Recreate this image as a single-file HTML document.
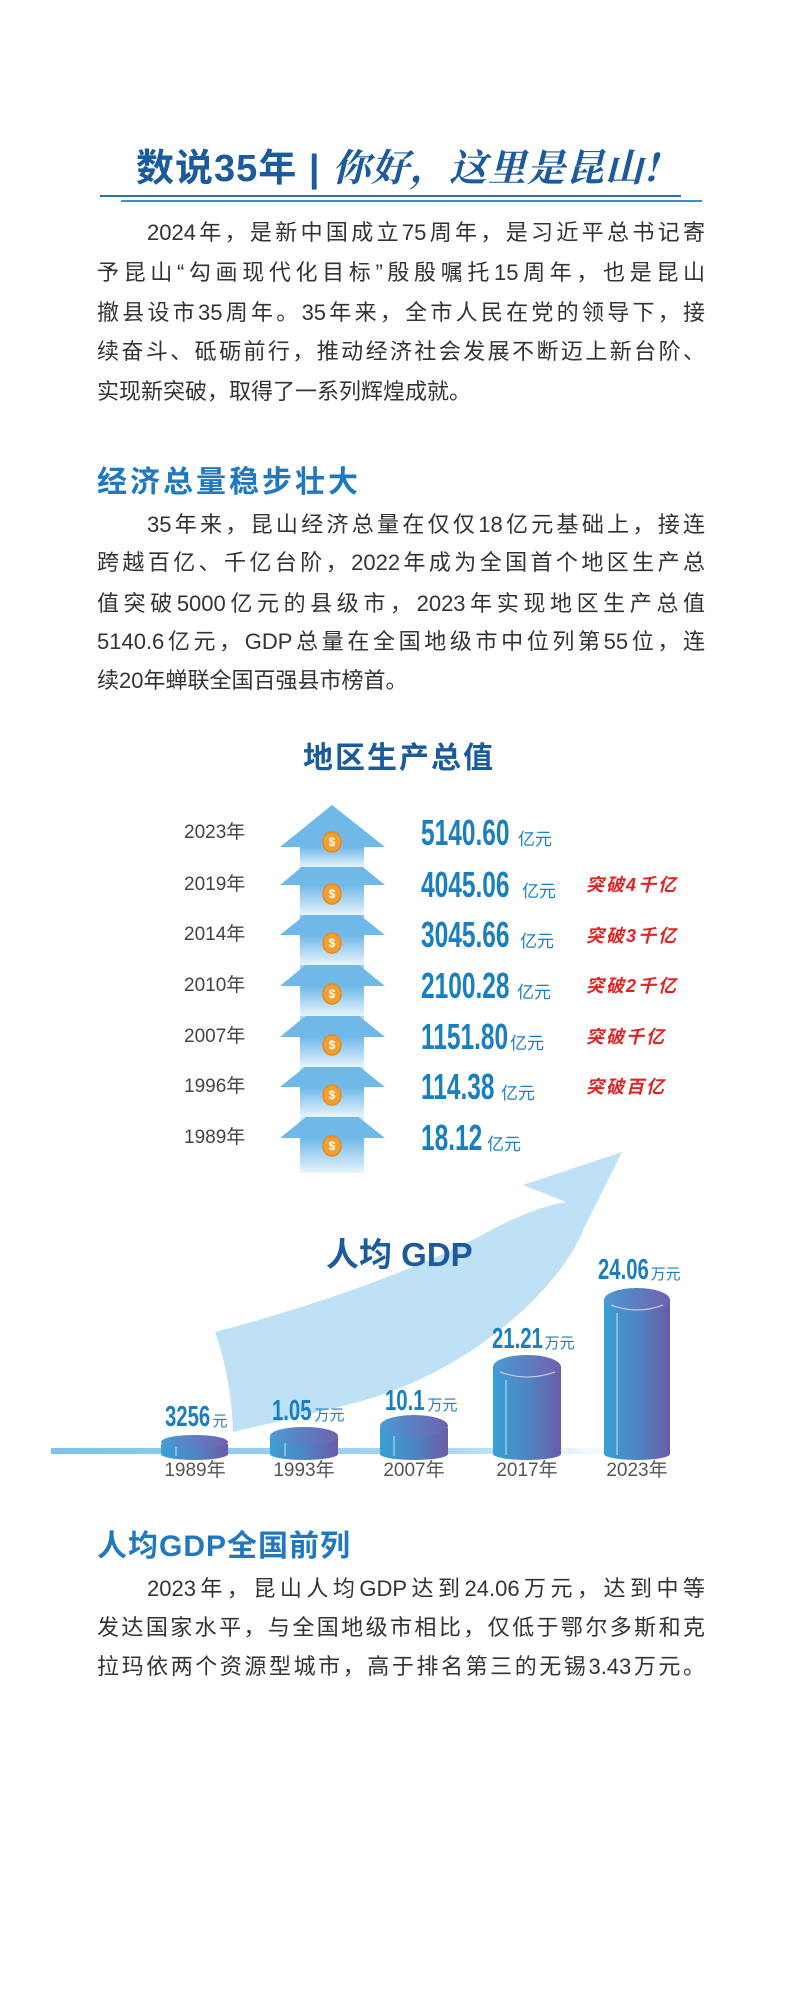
<!DOCTYPE html>
<html><head><meta charset="utf-8">
<style>
*{margin:0;padding:0;box-sizing:border-box}
body{width:800px;height:1999px;background:#fff;position:relative;overflow:hidden;font-family:"Liberation Sans","Noto Sans CJK SC",sans-serif}
.abs{position:absolute}
.p{position:absolute;left:97px;width:608px;font-size:22px;color:#333;text-align:justify;text-align-last:justify;line-height:28px;white-space:nowrap}
.p.last{text-align-last:left}
.h{position:absolute;left:97px;font-size:30px;font-weight:bold;color:#1f78c0;letter-spacing:3px;line-height:36px}
.yr{position:absolute;left:184px;font-size:19px;color:#444;line-height:24px}
.val{position:absolute;left:421px;white-space:nowrap;line-height:36px}
.val b{display:inline-block;font-size:36px;color:#1a7fc0;transform:scaleX(0.68);transform-origin:left center;width:0;overflow:visible}
.val span{font-size:17px;color:#1a7fc0}
.red{position:absolute;left:586px;font-size:18px;font-weight:bold;font-style:italic;color:#e02424;letter-spacing:2px;line-height:22px}
.lab{position:absolute;white-space:nowrap;color:#1a7fc0;line-height:30px}
.lab b{display:inline-block;font-size:29px;transform:scaleX(0.7);transform-origin:left center}
.lab span{font-size:15px}
.y2{position:absolute;font-size:19px;color:#555;width:80px;text-align:center;line-height:24px}
</style></head><body>

<div class="abs" style="left:136px;top:143px;width:531px;height:44px;font-size:38px;font-weight:bold;color:#1b5a9c;white-space:nowrap;line-height:44px;letter-spacing:1px">数说35年 | <span style="font-family:'Noto Serif CJK SC',serif;font-style:italic">你好，这里是昆山!</span></div>
<div class="abs" style="left:100px;top:195px;width:581px;height:2px;background:#2a6fb0"></div>
<div class="abs" style="left:121px;top:200px;width:581px;height:2px;background:#3a8fd0"></div>

<div class="p" style="top:219px;padding-left:50px">2024年，是新中国成立75周年，是习近平总书记寄</div>
<div class="p" style="top:259px">予昆山“勾画现代化目标”殷殷嘱托15周年，也是昆山</div>
<div class="p" style="top:299px">撤县设市35周年。35年来，全市人民在党的领导下，接</div>
<div class="p" style="top:338px">续奋斗、砥砺前行，推动经济社会发展不断迈上新台阶、</div>
<div class="p last" style="top:378px">实现新突破，取得了一系列辉煌成就。</div>

<div class="h" style="top:465px">经济总量稳步壮大</div>
<div class="p" style="top:511px;padding-left:50px">35年来，昆山经济总量在仅仅18亿元基础上，接连</div>
<div class="p" style="top:549px">跨越百亿、千亿台阶，2022年成为全国首个地区生产总</div>
<div class="p" style="top:590px">值突破5000亿元的县级市，2023年实现地区生产总值</div>
<div class="p" style="top:628px">5140.6亿元，GDP总量在全国地级市中位列第55位，连</div>
<div class="p last" style="top:667px">续20年蝉联全国百强县市榜首。</div>

<div class="abs" style="left:303px;top:741px;font-size:30px;font-weight:bold;color:#1b5a9c;letter-spacing:2px;line-height:36px">地区生产总值</div>

<svg class="abs" style="left:0;top:0" width="800" height="1999">
<defs>
<linearGradient id="st" x1="0" y1="0" x2="0" y2="1"><stop offset="0" stop-color="#6fb8e8"/><stop offset="1" stop-color="#e8f4fc"/></linearGradient>
<linearGradient id="cyl" x1="0" y1="0" x2="1" y2="0"><stop offset="0" stop-color="#3a9fd6"/><stop offset="0.5" stop-color="#4d86c4"/><stop offset="1" stop-color="#6a5ca8"/></linearGradient>
<linearGradient id="top" x1="0" y1="0" x2="1" y2="0"><stop offset="0" stop-color="#4a9ad4"/><stop offset="1" stop-color="#6f62ad"/></linearGradient>
<linearGradient id="bar" x1="0" y1="0" x2="1" y2="0"><stop offset="0" stop-color="#7cc2ea"/><stop offset="0.7" stop-color="#a9d8f2"/><stop offset="1" stop-color="#ffffff"/></linearGradient>
</defs>
<!-- sweep arrow -->
<path d="M215,1332 C300,1310 420,1270 491,1230 C530,1210 550,1205 566,1202 L523,1185 L622,1152 L584,1228 C560,1290 470,1370 365,1400 C300,1418 260,1425 233,1432 C232,1395 225,1360 215,1332 Z" fill="#bfe1f6"/>
<!-- stacked arrows -->
<g>
<rect x="300" y="840" width="64" height="333" fill="url(#st)"/>
<polygon points="332,1096 385,1138 280,1138" fill="#6fb8e8"/><rect x="300" y="1138" width="64" height="35" fill="url(#st)"/>
<polygon points="332,1045 385,1087 280,1087" fill="#6fb8e8"/><rect x="300" y="1087" width="64" height="30" fill="url(#st)"/>
<polygon points="332,994 385,1037 280,1037" fill="#6fb8e8"/><rect x="300" y="1037" width="64" height="30" fill="url(#st)"/>
<polygon points="332,943 385,986 280,986" fill="#6fb8e8"/><rect x="300" y="986" width="64" height="30" fill="url(#st)"/>
<polygon points="332,893 385,935 280,935" fill="#6fb8e8"/><rect x="300" y="935" width="64" height="30" fill="url(#st)"/>
<polygon points="332,842 385,885 280,885" fill="#6fb8e8"/><rect x="300" y="885" width="64" height="30" fill="url(#st)"/>
<polygon points="332,805 385,847 280,847" fill="#6fb8e8"/><rect x="300" y="847" width="64" height="20" fill="url(#st)"/>
</g>
<g font-family="Liberation Sans" font-size="12" font-weight="bold" fill="#fff" text-anchor="middle">
<g fill="#f0a030" stroke="#e88a20" stroke-width="1.5">
<ellipse cx="332" cy="842" rx="9" ry="10"/><ellipse cx="332" cy="894" rx="9" ry="10"/><ellipse cx="332" cy="943" rx="9" ry="10"/><ellipse cx="332" cy="994" rx="9" ry="10"/><ellipse cx="332" cy="1045" rx="9" ry="10"/><ellipse cx="332" cy="1095" rx="9" ry="10"/><ellipse cx="332" cy="1146" rx="9" ry="10"/>
</g>
<text x="332" y="846">$</text><text x="332" y="898">$</text><text x="332" y="947">$</text><text x="332" y="998">$</text><text x="332" y="1049">$</text><text x="332" y="1099">$</text><text x="332" y="1150">$</text>
</g>
<!-- baseline -->
<rect x="51" y="1448" width="570" height="6" fill="url(#bar)"/>
<!-- cylinders -->
<g>
<rect x="161" y="1444" width="67" height="10" fill="url(#cyl)"/><ellipse cx="194.5" cy="1454" rx="33.5" ry="6" fill="url(#cyl)"/><ellipse cx="194.5" cy="1442" rx="33.5" ry="7" fill="url(#top)"/>
<rect x="270" y="1437" width="68" height="17" fill="url(#cyl)"/><ellipse cx="304" cy="1454" rx="34" ry="6" fill="url(#cyl)"/><ellipse cx="304" cy="1436" rx="34" ry="9" fill="url(#top)"/>
<rect x="380" y="1428" width="68" height="26" fill="url(#cyl)"/><ellipse cx="414" cy="1454" rx="34" ry="6" fill="url(#cyl)"/><ellipse cx="414" cy="1426" rx="34" ry="11" fill="url(#top)"/>
<rect x="493" y="1367" width="68" height="87" fill="url(#cyl)"/><ellipse cx="527" cy="1454" rx="34" ry="6" fill="url(#cyl)"/><ellipse cx="527" cy="1367" rx="34" ry="12" fill="url(#top)"/>
<rect x="604" y="1300" width="66" height="154" fill="url(#cyl)"/><ellipse cx="637" cy="1454" rx="33" ry="6" fill="url(#cyl)"/><ellipse cx="637" cy="1300" rx="33" ry="12" fill="url(#top)"/>
<g stroke="#ffffff" stroke-width="1" opacity="0.7" fill="none">
<line x1="176" y1="1447" x2="176" y2="1456"/><line x1="285" y1="1443" x2="285" y2="1456"/><line x1="394" y1="1436" x2="394" y2="1456"/><line x1="506" y1="1380" x2="506" y2="1455"/><line x1="617" y1="1313" x2="617" y2="1455"/>
<path d="M500,1372 Q527,1382 555,1372"/><path d="M611,1305 Q637,1315 663,1305"/>
</g>
</g>
</svg>

<div class="yr" style="top:821px">2023年</div>
<div class="yr" style="top:873px">2019年</div>
<div class="yr" style="top:923px">2014年</div>
<div class="yr" style="top:974px">2010年</div>
<div class="yr" style="top:1025px">2007年</div>
<div class="yr" style="top:1075px">1996年</div>
<div class="yr" style="top:1126px">1989年</div>

<div class="val" style="top:815px"><b>5140.60</b><span style="margin-left:97px">亿元</span></div>
<div class="val" style="top:867px"><b>4045.06</b><span style="margin-left:101px">亿元</span></div>
<div class="val" style="top:917px"><b>3045.66</b><span style="margin-left:99px">亿元</span></div>
<div class="val" style="top:968px"><b>2100.28</b><span style="margin-left:96px">亿元</span></div>
<div class="val" style="top:1019px"><b>1151.80</b><span style="margin-left:89px">亿元</span></div>
<div class="val" style="top:1069px"><b>114.38</b><span style="margin-left:80px">亿元</span></div>
<div class="val" style="top:1120px"><b>18.12</b><span style="margin-left:66px">亿元</span></div>

<div class="red" style="top:874px">突破4千亿</div>
<div class="red" style="top:925px">突破3千亿</div>
<div class="red" style="top:975px">突破2千亿</div>
<div class="red" style="top:1026px">突破千亿</div>
<div class="red" style="top:1076px">突破百亿</div>

<div class="abs" style="left:326px;top:1236px;font-size:33px;font-weight:bold;color:#1b5a9c;line-height:38px;white-space:nowrap">人均 GDP</div>

<div class="lab" style="left:165px;top:1402px"><b>3256</b><span style="margin-left:-17px">元</span></div>
<div class="lab" style="left:272px;top:1396px"><b>1.05</b><span style="margin-left:-14px">万元</span></div>
<div class="lab" style="left:385px;top:1386px"><b>10.1</b><span style="margin-left:-14px">万元</span></div>
<div class="lab" style="left:492px;top:1324px"><b>21.21</b><span style="margin-left:-20px">万元</span></div>
<div class="lab" style="left:598px;top:1255px"><b>24.06</b><span style="margin-left:-20px">万元</span></div>

<div class="y2" style="left:155px;top:1459px">1989年</div>
<div class="y2" style="left:264px;top:1459px">1993年</div>
<div class="y2" style="left:374px;top:1459px">2007年</div>
<div class="y2" style="left:487px;top:1459px">2017年</div>
<div class="y2" style="left:597px;top:1459px">2023年</div>

<div class="h" style="top:1529px;letter-spacing:1px">人均GDP全国前列</div>
<div class="p" style="top:1575px;padding-left:50px">2023年，昆山人均GDP达到24.06万元，达到中等</div>
<div class="p" style="top:1614px">发达国家水平，与全国地级市相比，仅低于鄂尔多斯和克</div>
<div class="p" style="top:1653px">拉玛依两个资源型城市，高于排名第三的无锡3.43万元。</div>

</body></html>
